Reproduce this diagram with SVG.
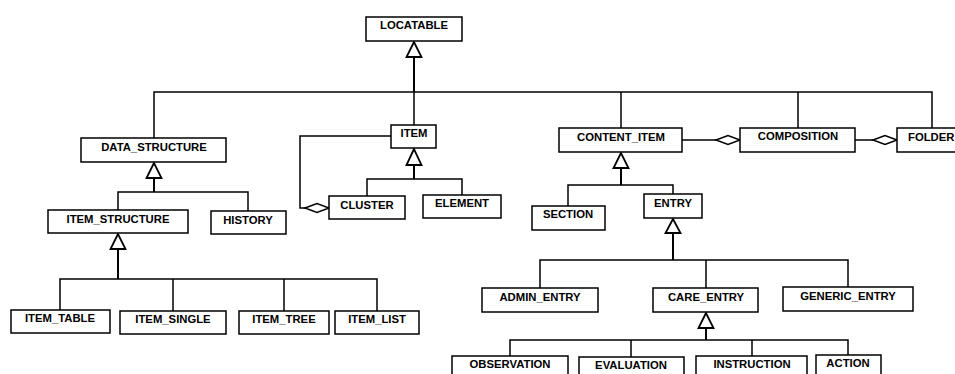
<svg xmlns="http://www.w3.org/2000/svg" width="955" height="374" viewBox="0 0 955 374">
<style>
.box{fill:#fff;stroke:#000;stroke-width:1.5}
.lbl{font-family:"Liberation Sans",Arial,sans-serif;font-weight:bold;font-size:11.3px;fill:#000;text-anchor:middle}
.ln{fill:none;stroke:#000;stroke-width:1.5}
.stem{fill:none;stroke:#000;stroke-width:2}
.tri{fill:#fff;stroke:#000;stroke-width:1.8}
.dia{fill:#fff;stroke:#000;stroke-width:1.5}
</style>
<rect width="955" height="374" fill="#fff"/>
<g id="connectors">
<path class="stem" d="M414 57V92"/>
<path class="ln" d="M154 138V92H932V128M414 92V125M621 92V128M798 92V128"/>
<polygon class="tri" points="414,42 406.5,57 421.5,57"/>
<path class="stem" d="M154 178V192"/>
<path class="ln" d="M118 210V192H248V211"/>
<polygon class="tri" points="154,163 146.5,178 161.5,178"/>
<path class="stem" d="M118 249V279"/>
<path class="ln" d="M60 310V279H377V311M173 279V311M284 279V311"/>
<polygon class="tri" points="118,234 110.5,249 125.5,249"/>
<path class="stem" d="M414 165V179"/>
<path class="ln" d="M367 196V179H462V195"/>
<polygon class="tri" points="414,149 406.5,165 421.5,165"/>
<path class="ln" d="M391 136H300V208H305"/>
<polygon class="dia" points="305,208 317,203.5 329,208 317,212.5"/>
<path class="stem" d="M621 168V185"/>
<path class="ln" d="M568 206V185H673V194"/>
<polygon class="tri" points="621,153 613.5,168 628.5,168"/>
<path class="ln" d="M682 140H716"/>
<polygon class="dia" points="716,140 728,135.5 740,140 728,144.5"/>
<path class="ln" d="M855 140H873"/>
<polygon class="dia" points="873,140 885,135.5 897,140 885,144.5"/>
<path class="stem" d="M673 233V260"/>
<path class="ln" d="M540 288V260H848V287M706 260V288"/>
<polygon class="tri" points="673,219 665.5,233 680.5,233"/>
<path class="stem" d="M706 328V340"/>
<path class="ln" d="M510 356V340H848V355M631 340V357M752 340V356"/>
<polygon class="tri" points="706,313 698.5,328 713.5,328"/>
</g>
<g id="locatable"><rect class="box" x="366" y="17" width="96" height="24"/><text class="lbl" x="414" y="29">LOCATABLE</text></g>
<g id="data_structure"><rect class="box" x="81" y="138" width="145" height="24"/><text class="lbl" x="154" y="151">DATA_STRUCTURE</text></g>
<g id="item_structure"><rect class="box" x="48" y="210" width="140" height="23"/><text class="lbl" x="118" y="223">ITEM_STRUCTURE</text></g>
<g id="history"><rect class="box" x="211" y="211" width="75" height="23"/><text class="lbl" x="248" y="224">HISTORY</text></g>
<g id="item_table"><rect class="box" x="11" y="310" width="99" height="23"/><text class="lbl" x="60" y="322">ITEM_TABLE</text></g>
<g id="item_single"><rect class="box" x="120" y="311" width="106" height="23"/><text class="lbl" x="173" y="323">ITEM_SINGLE</text></g>
<g id="item_tree"><rect class="box" x="239" y="311" width="90" height="23"/><text class="lbl" x="284" y="323">ITEM_TREE</text></g>
<g id="item_list"><rect class="box" x="335" y="311" width="84" height="23"/><text class="lbl" x="377" y="323">ITEM_LIST</text></g>
<g id="item"><rect class="box" x="391" y="125" width="45" height="23"/><text class="lbl" x="414" y="137">ITEM</text></g>
<g id="cluster"><rect class="box" x="329" y="196" width="76" height="23"/><text class="lbl" x="367" y="209">CLUSTER</text></g>
<g id="element"><rect class="box" x="423" y="195" width="78" height="23"/><text class="lbl" x="462" y="207">ELEMENT</text></g>
<g id="content_item"><rect class="box" x="559" y="128" width="123" height="24"/><text class="lbl" x="621" y="141">CONTENT_ITEM</text></g>
<g id="composition"><rect class="box" x="740" y="128" width="115" height="24"/><text class="lbl" x="798" y="140">COMPOSITION</text></g>
<g id="folder"><rect class="box" x="897" y="128" width="80" height="24"/><text class="lbl" x="908" y="141" style="text-anchor:start">FOLDER</text></g>
<g id="section"><rect class="box" x="532" y="206" width="73" height="24"/><text class="lbl" x="568" y="218">SECTION</text></g>
<g id="entry"><rect class="box" x="644" y="194" width="58" height="24"/><text class="lbl" x="673" y="207">ENTRY</text></g>
<g id="admin_entry"><rect class="box" x="482" y="288" width="116" height="24"/><text class="lbl" x="540" y="301">ADMIN_ENTRY</text></g>
<g id="care_entry"><rect class="box" x="653" y="288" width="105" height="24"/><text class="lbl" x="706" y="301">CARE_ENTRY</text></g>
<g id="generic_entry"><rect class="box" x="783" y="287" width="130" height="24"/><text class="lbl" x="848" y="300">GENERIC_ENTRY</text></g>
<g id="observation"><rect class="box" x="452" y="356" width="116" height="30"/><text class="lbl" x="510" y="368">OBSERVATION</text></g>
<g id="evaluation"><rect class="box" x="579" y="357" width="105" height="30"/><text class="lbl" x="631" y="369">EVALUATION</text></g>
<g id="instruction"><rect class="box" x="696" y="356" width="111" height="30"/><text class="lbl" x="752" y="368">INSTRUCTION</text></g>
<g id="action"><rect class="box" x="816" y="355" width="65" height="30"/><text class="lbl" x="848" y="367">ACTION</text></g>
</svg>
